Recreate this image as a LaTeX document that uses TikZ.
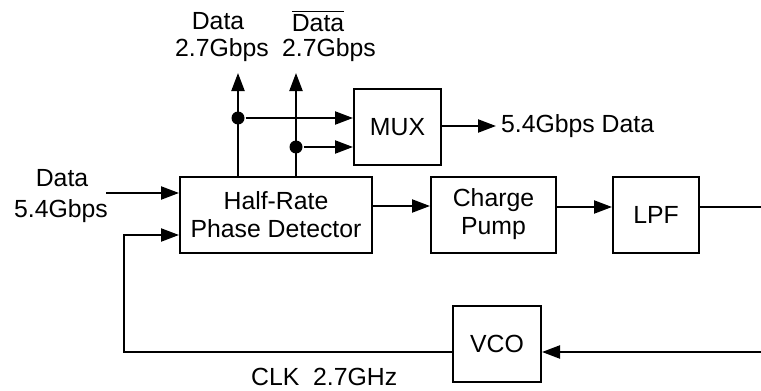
\documentclass[tikz,border=0pt]{standalone}
\usepackage{fontspec}
\setmainfont{Liberation Sans}
\usetikzlibrary{arrows.meta}
\usetikzlibrary{positioning}

\begin{document}
\begin{tikzpicture}[
		x=0.5pt,
		y=-0.5pt,
		>={Triangle[length=9pt,width=6.5pt]},
		line width=1.1pt,
		font=\fontsize{12.4}{14}\selectfont,
		block node/.style={
			draw,
			line width=1pt,
			align=center,
			inner sep=0pt,
			minimum height=38pt
		},
		label node/.style={inner sep=2pt},
		tap dot/.style={circle, fill, inner sep=0pt, minimum size=6.5pt}
		]
		
		\useasboundingbox (0,0) rectangle (761,391);
		
		% blocks
		\node[block node, minimum width=96pt] (pd) at (276,214.5) {Half-Rate\\Phase Detector};
		\node[block node, minimum width=62.5pt] (cp) [right of=pd, node distance=108.75pt] {Charge\\Pump};
		\node[block node, minimum width=43pt] (lpf) [right of=cp, node distance=81.25pt] {LPF};
		\node[block node, minimum width=44pt] (vco) at (497,343.5) {VCO};
		\node[block node, minimum width=43.5pt] (mux) at (397.5,127) {MUX};
		
		% labels
		\node[label node] (q) at (218,21) {Data};
		\node[label node] (qrate) at (222,50) {2.7Gbps};
		\node[label node] (qb) at (318,21) {$\overline{\mbox{Data}}$};
		\node[label node] (qbrate) at (329,50) {2.7Gbps};
		\node[label node] (din) at (62,178) {Data};
		\node[label node] (dinrate) at (61,211) {5.4Gbps};
		\node[label node, anchor=west] (muxout) at (496,126) {5.4Gbps Data};
		\node[label node, anchor=west] (clk) at (246,377) {CLK\ \ 2.7GHz};
		
		% taps and corners
		\node[tap dot] (dot1) at (238,118) {};
		\node[tap dot] (dot2) at (296,147) {};
		\coordinate (t1) at (238,73);
		\coordinate (t2) at (296,73);
		\coordinate (in) at (106,193);
		\coordinate (loop) at (124,352);
		\coordinate (lpfout) at (761,207);
		\coordinate (vcoin) at (761,352);
		
		% connections
		\draw[->] (in) -- (in -| pd.west);
		\draw[->] ([yshift=4.25pt]pd.east) -- ([yshift=4.25pt]cp.west);
		\draw[->] (lpfout -| cp.east) -- (lpfout -| lpf.west);
		\draw (lpfout -| lpf.east) -- (lpfout);
		\draw[->] (vcoin) -- (vcoin -| vco.east);
		\draw[->] (vcoin -| vco.west) -- (loop) |- ([yshift=-10.25pt]pd.west);
		\draw[->] (dot1 |- pd.north) -- (t1);
		\draw[->] (dot2 |- pd.north) -- (t2);
		\draw[->] (dot1) -- (dot1 -| mux.west);
		\draw[->] (dot2) -- (dot2 -| mux.west);
		\draw[->] (mux.east |- muxout) -- (muxout.west);
\end{tikzpicture}
\end{document}
